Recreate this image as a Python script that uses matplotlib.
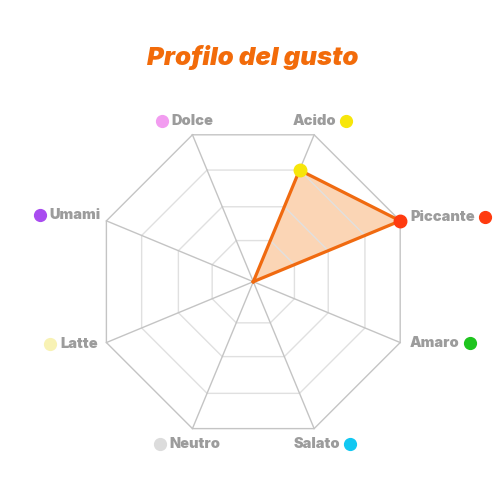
import matplotlib
matplotlib.use("Agg")
import matplotlib.pyplot as plt
import numpy as np

# Chart data (clockwise, starting top-left)
categories = ["Dolce", "Acido", "Piccante", "Amaro", "Salato", "Neutro", "Latte", "Umami"]
values = [0, 76, 100, 0, 0, 0, 0, 0]
dot_colors = ["#f29cf0", "#f7e60a", "#ff3b0f", "#1ec41e", "#12c8f2", "#dcdcdc", "#f8f2b4", "#a94cf0"]
ring_levels = [28, 51, 76, 100]
r_max = 100

fig = plt.figure(figsize=(5, 5), dpi=100)
ax = fig.add_axes([0.1886, 0.1186, 0.636, 0.636], projection="polar")
ax.set_theta_direction(-1)
ax.set_theta_offset(np.deg2rad(112.5))
ax.set_ylim(0, r_max)
ax.axis("off")

n = len(categories)
theta = np.arange(n) * 2 * np.pi / n
theta_closed = np.append(theta, theta[0])

# rings
for lvl in ring_levels:
    col = "#c4c4c4" if lvl == r_max else "#e0e0e0"
    ax.plot(theta_closed, [lvl] * (n + 1), color=col, lw=1.0, zorder=2, clip_on=False)
# spokes
for t in theta:
    ax.plot([t, t], [0, r_max], color="#c4c4c4", lw=1.0, zorder=2, clip_on=False)

# data polygon
v_closed = values + [values[0]]
ax.fill(theta_closed, v_closed, color="#f7a35c", alpha=0.45, zorder=1, lw=0, clip_on=False)
ax.plot(theta_closed, v_closed, color="#f06a10", lw=2.3, zorder=4,
        solid_joinstyle="round", clip_on=False)
for t, v, c in zip(theta, values, dot_colors):
    if v > 0:
        ax.plot(t, v, "o", ms=9, color=c, zorder=5, clip_on=False)

# labels
label_kw = dict(fontsize=10.5, fontweight=900, color="#9c9c9c",
                family=["Inter", "DejaVu Sans"], textcoords="offset points",
                annotation_clip=False)
texts = []
for i, (t, name) in enumerate(zip(theta, categories)):
    deg = (112.5 - i * 45) % 360
    if deg in (112.5, 67.5):
        off, ha, va = (0, 10), "center", "center"
        side = "left" if deg == 112.5 else "right"
    elif deg in (247.5, 292.5):
        off, ha, va = (2, -11), "center", "center"
        side = "left" if deg == 247.5 else "right"
    elif deg == 22.5:
        off, ha, va, side = (7, 3), "left", "center", "right"
    elif deg == 337.5:
        off, ha, va, side = (7, 0), "left", "center", "right"
    elif deg == 157.5:
        off, ha, va, side = (-4, 4), "right", "center", "left"
    else:
        off, ha, va, side = (-6, -1), "right", "center", "left"
    txt = ax.annotate(name, xy=(t, r_max), xytext=off, ha=ha, va=va, **label_kw)
    texts.append((txt, side, dot_colors[i]))

fig.canvas.draw()
renderer = fig.canvas.get_renderer()
for txt, side, c in texts:
    bb = txt.get_window_extent(renderer)
    ymid = (bb.y0 + bb.y1) / 2
    x = bb.x0 - 10 if side == "left" else bb.x1 + 10
    fig.add_artist(plt.Line2D([x / 500], [ymid / 500], marker="o", ms=8.5,
                              color=c, transform=fig.transFigure, lw=0))

fig.text(0.506, 0.886, "Profilo del gusto", ha="center", va="center",
         fontsize=18.5, fontweight=900, style="italic", color="#f26b0a",
         family=["Inter", "DejaVu Sans"])

fig.savefig("out.png", dpi=100)
